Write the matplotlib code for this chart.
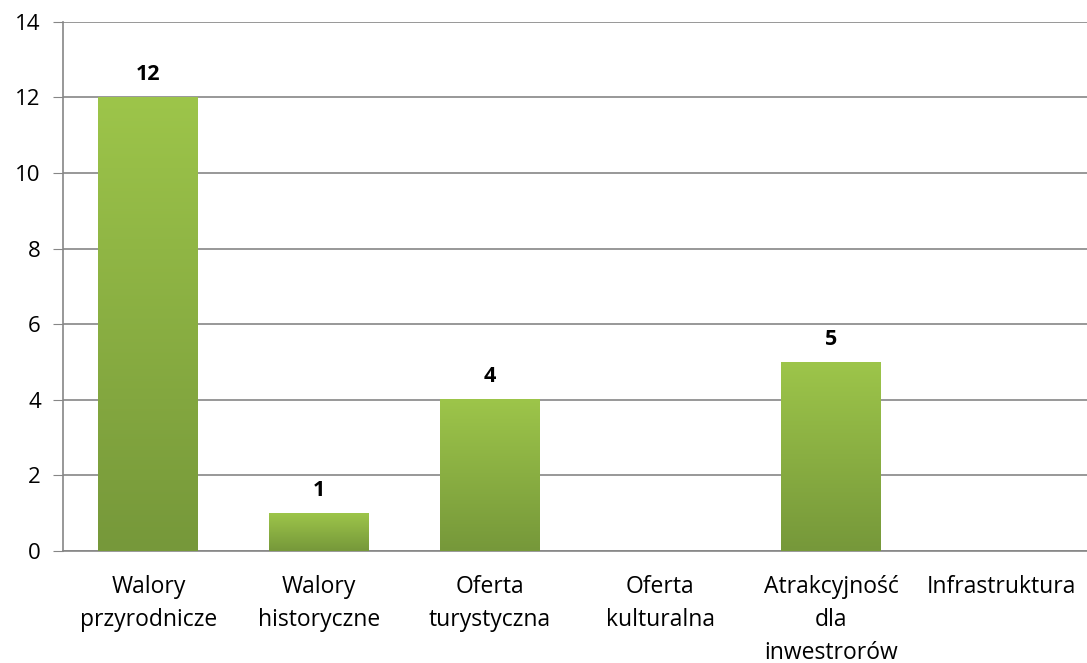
import numpy as np
import matplotlib
matplotlib.use('Agg')
import matplotlib.pyplot as plt
from matplotlib.colors import LinearSegmentedColormap

categories = ['Walory\nprzyrodnicze', 'Walory\nhistoryczne', 'Oferta\nturystyczna',
              'Oferta\nkulturalna', 'Atrakcyjność\ndla\ninwestrorów', 'Infrastruktura']
values = [12, 1, 4, 0, 5, 0]

plt.rcParams['font.family'] = ['Open Sans', 'DejaVu Sans']

fig = plt.figure(figsize=(10.87, 6.63), dpi=100)
ax = fig.add_axes([0.058, 0.169, 0.942, 0.798])

x = np.arange(len(categories))
bars = ax.bar(x, values, width=0.585, color='none', zorder=3)

green = LinearSegmentedColormap.from_list('green', ['#76983a', '#9dc54a'])
grad = np.linspace(0, 1, 256).reshape(-1, 1)
for b, v in zip(bars, values):
    if v <= 0:
        continue
    x0, w, h = b.get_x(), b.get_width(), b.get_height()
    ax.imshow(grad, cmap=green, origin='lower', aspect='auto',
              extent=(x0, x0 + w, 0, h), zorder=3)
    ax.text(x0 + w / 2, h + 0.33, str(v), ha='center', va='bottom',
            fontsize=15.5, fontweight='bold')

ax.set_xlim(-0.5, len(categories) - 0.5)
ax.set_ylim(0, 14)
ax.set_yticks(range(0, 15, 2))
ax.set_xticks(x)
ax.set_xticklabels(categories, fontsize=16.5, linespacing=1.5)
ax.tick_params(axis='x', length=0, pad=17)
ax.tick_params(axis='y', length=7, color='#868686', labelsize=16, pad=9)
ax.yaxis.grid(True, color='#868686', linewidth=1.2)
ax.set_axisbelow(True)
for s in ['top', 'right']:
    ax.spines[s].set_visible(False)
for s in ['left', 'bottom']:
    ax.spines[s].set_color('#868686')
    ax.spines[s].set_linewidth(1.2)

fig.savefig('out.png', dpi=100)
